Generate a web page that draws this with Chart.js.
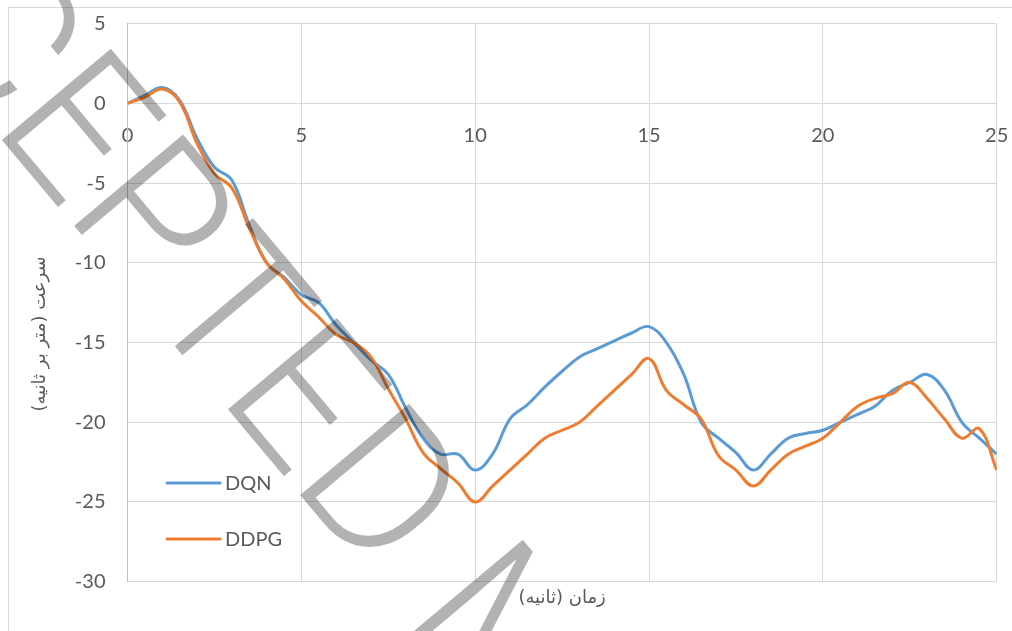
<!DOCTYPE html>
<html><head><meta charset="utf-8">
<script src="https://cdn.jsdelivr.net/npm/chart.js@4.4.1/dist/chart.umd.min.js"></script>
<style>html,body{margin:0;padding:0;background:#fff;overflow:hidden;} #wrap{width:1012px;height:631px;position:relative;}</style>
</head><body><div id="wrap"><canvas id="c" width="1012" height="631"></canvas></div>
<script>
// ---- data ----
const time = [0,0.5,1,1.5,2,2.5,3,3.5,4,4.5,5,5.5,6,6.5,7,7.5,8,8.5,9,9.5,10,10.5,11,11.5,12,12.5,13,13.5,14,14.5,15,15.5,16,16.5,17,17.5,18,18.5,19,19.5,20,20.5,21,21.5,22,22.5,23,23.5,24,24.5,25];
const dqn  = [0,0.5,1.0,0.2,-2.2,-4.0,-4.8,-7.6,-10.0,-10.9,-12.0,-12.5,-13.9,-15.0,-16.1,-17.0,-19.1,-21.0,-22.0,-22.0,-23.0,-22.0,-19.8,-18.9,-17.8,-16.8,-15.9,-15.4,-14.9,-14.4,-14.0,-15.0,-17.0,-20.0,-21.0,-21.9,-23.0,-22.0,-21.0,-20.7,-20.5,-20.0,-19.5,-19.0,-18.0,-17.5,-17.0,-18.0,-20.0,-21.0,-22.0];
const ddpg = [0,0.4,0.9,0.1,-2.5,-4.4,-5.3,-7.8,-10.0,-11.0,-12.4,-13.4,-14.5,-15.0,-15.9,-17.9,-19.8,-21.9,-22.9,-23.8,-25.0,-24.0,-23.0,-22.0,-21.0,-20.5,-20.0,-19.0,-18.0,-17.0,-16.0,-18.0,-18.9,-19.8,-22.1,-23.0,-24.0,-23.0,-22.0,-21.5,-21.0,-20.0,-19.0,-18.5,-18.2,-17.5,-18.5,-19.8,-21.0,-20.4,-23.0];
const seriesNames = ['DQN','DDPG'];
const seriesColors = ['#5B9BD5','#ED7D31'];
const xTitle = 'زمان (ثانیه)';
const yTitle = 'سرعت (متر بر ثانیه)';
const watermarkText = 'ACCEPTED MANUSCRIPT';
const xRange = [0, 25];
const yRange = [-30, 5];
const tickStep = 5;

// ---- plugins ----
const frame = {
  id: 'frame',
  beforeDraw(chart) {
    const ctx = chart.ctx;
    ctx.save();
    ctx.fillStyle = '#fff';
    ctx.fillRect(0, 0, chart.width, chart.height);
    ctx.strokeStyle = '#d9d9d9';
    ctx.lineWidth = 1;
    ctx.strokeRect(8.5, 7.5, chart.width + 20, chart.height + 20);
    ctx.restore();
  }
};
const titles = {
  id: 'titles',
  afterDraw(chart) {
    const ctx = chart.ctx, a = chart.chartArea;
    ctx.save();
    ctx.fillStyle = '#595959';
    ctx.font = '18px "DejaVu Sans"';
    ctx.direction = 'rtl';
    ctx.textAlign = 'center';
    ctx.textBaseline = 'middle';
    ctx.fillText(xTitle, (a.left + a.right) / 2, a.bottom + 17);
    ctx.translate(40, 334);
    ctx.rotate(-Math.PI / 2);
    ctx.fillText(yTitle, 0, 0);
    ctx.restore();
  }
};
const legendBox = {
  id: 'legendBox',
  afterDatasetsDraw(chart) {
    const ctx = chart.ctx;
    ctx.save();
    ctx.font = '20px Lato';
    ctx.textBaseline = 'middle';
    ctx.textAlign = 'left';
    const x0 = 167, x1 = 220, ys = [483, 539];
    seriesNames.forEach((n, i) => {
      ctx.strokeStyle = seriesColors[i];
      ctx.lineWidth = 3;
      ctx.lineCap = 'round';
      ctx.beginPath(); ctx.moveTo(x0, ys[i]); ctx.lineTo(x1, ys[i]); ctx.stroke();
      ctx.fillStyle = '#595959';
      ctx.fillText(n, x1 + 5, ys[i] + 1);
    });
    ctx.restore();
  }
};
const watermark = {
  id: 'watermark',
  afterDraw(chart) {
    const ctx = chart.ctx;
    ctx.save();
    ctx.font = '300 200px Roboto';
    ctx.fillStyle = 'rgba(0,0,0,0.3)';
    ctx.textBaseline = 'alphabetic';
    const th = 50 * Math.PI / 180;
    const t = watermarkText;
    const iE = 3, iM = t.indexOf('M');
    const xE = ctx.measureText(t.slice(0, iE)).width - ctx.measureText('E').actualBoundingBoxLeft;
    const xM = ctx.measureText(t.slice(0, iM)).width - ctx.measureText('M').actualBoundingBoxLeft;
    const sx = 641 / (xM - xE);
    const corner = [2, 140];
    ctx.translate(corner[0], corner[1]);
    ctx.rotate(th);
    ctx.scale(sx, 1);
    ctx.fillText(t, -xE, 0);
    ctx.restore();
  }
};

const mk = (vals) => time.map((t, i) => ({x: t, y: vals[i]}));

new Chart(document.getElementById('c'), {
  type: 'line',
  data: {
    datasets: [
      {label: seriesNames[0], data: mk(dqn), borderColor: seriesColors[0], borderWidth: 3, pointRadius: 0, tension: 0.4, fill: false, order: 1},
      {label: seriesNames[1], data: mk(ddpg), borderColor: seriesColors[1], borderWidth: 3, pointRadius: 0, tension: 0.4, fill: false, order: 0}
    ]
  },
  options: {
    responsive: false,
    devicePixelRatio: 1,
    animation: false,
    events: [],
    layout: {padding: {left: 8, top: 23.7, right: 15.3, bottom: 49.3}},
    plugins: {legend: {display: false}, tooltip: {enabled: false}},
    scales: {
      x: {
        type: 'linear', min: xRange[0], max: xRange[1],
        position: {y: 0},
        afterFit(s) { s.height = 0; s.paddingLeft = 0; s.paddingRight = 0; },
        grid: {color: '#d9d9d9', lineWidth: 1, drawTicks: false},
        border: {color: '#d9d9d9', width: 1},
        ticks: {stepSize: tickStep, color: '#595959', font: {family: 'Lato', size: 20}, padding: 20, maxRotation: 0}
      },
      y: {
        type: 'linear', min: yRange[0], max: yRange[1],
        afterFit(s) { s.width = 119.5; s.paddingTop = 0; s.paddingBottom = 0; },
        grid: {color: '#d9d9d9', lineWidth: 1, drawTicks: false},
        border: {color: '#bfbfbf', width: 1},
        ticks: {stepSize: tickStep, color: '#595959', font: {family: 'Lato', size: 20}, padding: 22}
      }
    }
  },
  plugins: [frame, legendBox, titles, watermark]
});
</script>
</body></html>
